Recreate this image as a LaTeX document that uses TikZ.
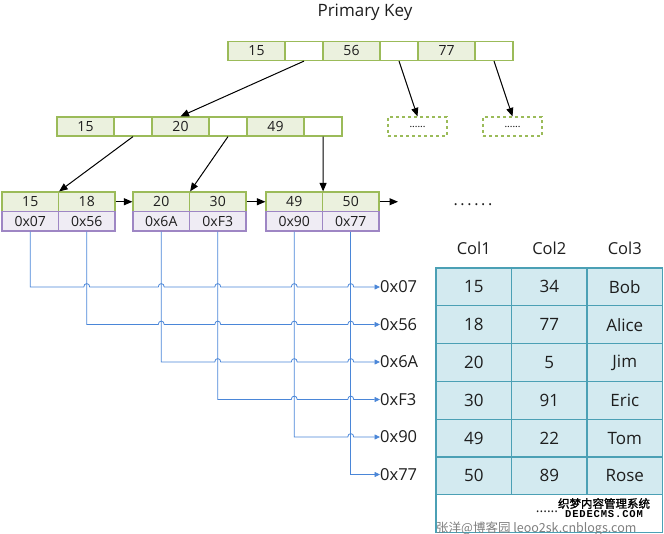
\documentclass[tikz,border=0pt]{standalone}
\usepackage{fontspec}
\setmainfont{Open Sans}
\newfontfamily\cjkf{Noto Sans CJK SC}
\newfontfamily\cjkbold[FakeBold=1.5]{Noto Sans CJK SC}
\newfontfamily\monof[LetterSpace=8]{Liberation Mono}
\usetikzlibrary{arrows.meta,calc}
\definecolor{gfill}{HTML}{EBF1DE}
\definecolor{gline}{HTML}{9BBB59}
\definecolor{pfill}{HTML}{EFECF4}
\definecolor{pline}{HTML}{9E86C4}
\definecolor{tfill}{HTML}{D3EAF0}
\definecolor{tline}{HTML}{4BA0B5}
\definecolor{bline}{HTML}{4A86D8}
\definecolor{txt}{HTML}{1E1E1E}
\tikzset{
  keycell/.style={draw=gline, fill=gfill, line width=1.2pt, minimum width=57pt, minimum height=19pt, inner sep=0pt, text=txt, font=\fontsize{14}{14}\selectfont},
  blankcell/.style={keycell, fill=white, minimum width=38pt},
  leafkey/.style={keycell, minimum width=56.5pt, minimum height=19.5pt},
  ptrcell/.style={leafkey, draw=pline, fill=pfill},
  dashbox/.style={draw=gline, dashed, line width=1.2pt, minimum width=59pt, minimum height=19pt, inner sep=0pt, font=\fontsize{10}{10}\selectfont},
  blk/.style={line width=1pt, -{Triangle[length=8.5pt,width=7pt]}},
  bl/.style={draw=bline, line width=0.8pt},
  blarrow/.style={bl, -{Triangle[length=5.5pt,width=5pt]}},
  lbl/.style={anchor=west, inner sep=0pt, text=txt, font=\fontsize{16.5}{16.5}\selectfont},
  tcell/.style={draw=tline, fill=tfill, line width=1.3pt, minimum width=75.5pt, minimum height=37.8pt, inner sep=0pt, text=txt, font=\fontsize{17}{17}\selectfont},
  hdr/.style={inner sep=0pt, text=txt, font=\fontsize{16.5}{16.5}\selectfont}
}
\begin{document}
\begin{tikzpicture}[x=1pt,y=-1pt]
\useasboundingbox (0,0) rectangle (664,534);
% title
\node[hdr, font=\fontsize{17}{17}\selectfont] (title) at (365,12) {Primary Key};
% root
\node[keycell] (t1) at (256.5,51) {15};
\node[blankcell] (t2) at (304,51) {};
\node[keycell] (t3) at (351.5,51) {56};
\node[blankcell] (t4) at (399,51) {};
\node[keycell] (t5) at (446.5,51) {77};
\node[blankcell] (t6) at (494,51) {};
% middle
\node[keycell] (m1) at (85.5,126.5) {15};
\node[blankcell] (m2) at (133,126.5) {};
\node[keycell] (m3) at (180.5,126.5) {20};
\node[blankcell] (m4) at (228,126.5) {};
\node[keycell] (m5) at (275.5,126.5) {49};
\node[blankcell] (m6) at (323,126.5) {};
\node[dashbox] (d1) at (417.5,126.5) {......};
\node[dashbox] (d2) at (512.5,126.5) {......};
% leaves
\node[leafkey] (k1) at (30.25,201.75) {15};
\node[leafkey] (k2) at (86.75,201.75) {18};
\node[leafkey] (k3) at (161.25,201.75) {20};
\node[leafkey] (k4) at (217.75,201.75) {30};
\node[leafkey] (k5) at (294.25,201.75) {49};
\node[leafkey] (k6) at (350.75,201.75) {50};
\node[ptrcell] (p1) at (30.25,221.25) {0x07};
\node[ptrcell] (p2) at (86.75,221.25) {0x56};
\node[ptrcell] (p3) at (161.25,221.25) {0x6A};
\node[ptrcell] (p4) at (217.75,221.25) {0xF3};
\node[ptrcell] (p5) at (294.25,221.25) {0x90};
\node[ptrcell] (p6) at (350.75,221.25) {0x77};
\coordinate (lend) at (398,201.75);
% black arrows
\draw[blk] (t2.south) -- (m3.north);
\draw[blk] (t4.south) -- (d1.north);
\draw[blk] (t6.south) -- (d2.north);
\draw[blk] (m2.south) -- (k1.north east);
\draw[blk] (m4.south) -- (k3.north east);
\draw[blk] (m6.south) -- (k5.north east);
\draw[blk] (k2.east) -- (k3.west);
\draw[blk] (k4.east) -- (k5.west);
\draw[blk] (k6.east) -- (lend);
% dots
\node[hdr, font=\fontsize{16}{16}\selectfont] (dots) at (473,205) {.\,.\,.\,.\,.\,.};
% address labels
\node[lbl] (r1) at (380,287) {0x07};
\node[lbl] (r2) at (380,324.5) {0x56};
\node[lbl] (r3) at (380,362) {0x6A};
\node[lbl] (r4) at (380,399.5) {0xF3};
\node[lbl] (r5) at (380,437) {0x90};
\node[lbl] (r6) at (380,474.5) {0x77};
% blue pointer lines
\draw[blarrow] (p1.south) -- (p1.south |- r1.west)
  \foreach \j in {2,...,6}{ -- ([xshift=-3pt]p\j.south |- r1.west) .. controls ([xshift=-3pt,yshift=4.5pt]p\j.south |- r1.west) and ([xshift=3pt,yshift=4.5pt]p\j.south |- r1.west) .. ([xshift=3pt]p\j.south |- r1.west) }
  -- (r1.west);
\draw[blarrow] (p2.south) -- (p2.south |- r2.west)
  \foreach \j in {3,...,6}{ -- ([xshift=-3pt]p\j.south |- r2.west) .. controls ([xshift=-3pt,yshift=4.5pt]p\j.south |- r2.west) and ([xshift=3pt,yshift=4.5pt]p\j.south |- r2.west) .. ([xshift=3pt]p\j.south |- r2.west) }
  -- (r2.west);
\draw[blarrow] (p3.south) -- (p3.south |- r3.west)
  \foreach \j in {4,...,6}{ -- ([xshift=-3pt]p\j.south |- r3.west) .. controls ([xshift=-3pt,yshift=4.5pt]p\j.south |- r3.west) and ([xshift=3pt,yshift=4.5pt]p\j.south |- r3.west) .. ([xshift=3pt]p\j.south |- r3.west) }
  -- (r3.west);
\draw[blarrow] (p4.south) -- (p4.south |- r4.west)
  \foreach \j in {5,6}{ -- ([xshift=-3pt]p\j.south |- r4.west) .. controls ([xshift=-3pt,yshift=4.5pt]p\j.south |- r4.west) and ([xshift=3pt,yshift=4.5pt]p\j.south |- r4.west) .. ([xshift=3pt]p\j.south |- r4.west) }
  -- (r4.west);
\draw[blarrow] (p5.south) -- (p5.south |- r5.west)
  -- ([xshift=-3pt]p6.south |- r5.west) .. controls ([xshift=-3pt,yshift=4.5pt]p6.south |- r5.west) and ([xshift=3pt,yshift=4.5pt]p6.south |- r5.west) .. ([xshift=3pt]p6.south |- r5.west)
  -- (r5.west);
\draw[blarrow] (p6.south) -- (p6.south |- r6.west) -- (r6.west);
% table headers
\node[hdr] (h1) at (473.75,248) {Col1};
\node[hdr] (h2) at (549.25,248) {Col2};
\node[hdr] (h3) at (624.75,248) {Col3};
% table
\foreach \a/\b/\c [count=\r] in {15/34/Bob, 18/77/Alice, 20/5/Jim, 30/91/Eric, 49/22/Tom, 50/89/Rose}{
  \node[tcell] (a\r) at (473.75,{268+37.8*(\r-0.5)}) {\a};
  \node[tcell] (b\r) at (549.25,{268+37.8*(\r-0.5)}) {\b};
  \node[tcell] (c\r) at (624.75,{268+37.8*(\r-0.5)}) {\c};
}
\node[tcell, fill=white, minimum width=226.5pt] (last) at (549.25,513.7) {};
\node[hdr, font=\fontsize{14}{14}\selectfont] (ldots) at (547,512) {......};
% watermarks
\node[inner sep=0pt, anchor=west, text=black!50, font=\cjkf\fontsize{12.5}{12.5}\selectfont] (wm0) at (436,528.5) {张洋@博客园 leoo2sk.cnblogs.com};
\node[inner sep=0pt, text=black, font=\cjkbold\fontsize{11.5}{11.5}\selectfont] (wm1) at (604,503.5) {织梦内容管理系统};
\node[inner sep=0pt, text=black, font=\monof\bfseries\fontsize{10.5}{10.5}\selectfont] (wm2) at (604,514.5) {DEDECMS.COM};
\end{tikzpicture}
\end{document}
